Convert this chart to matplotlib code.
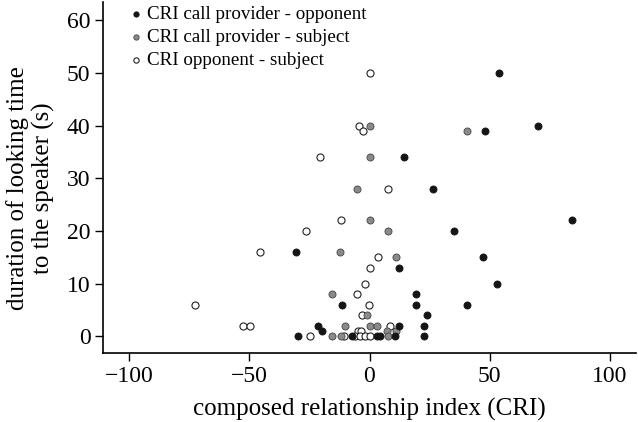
import numpy as np
import matplotlib
matplotlib.use("Agg")
import matplotlib.pyplot as plt

# data
# CRI call provider - opponent (black)
cpo_x = [53.75, 70, 48.3, 14.2, 26.4, 84.2, 35.1, -30.8, 47.1, 12.4, 53.1, 19.2,
         -11.5, 19.2, 40.7, 24, -21.3, 12.2, 22.6, -19.7, -29.6, -7.1, 3.1, 4.4,
         10.8, 22.6]
cpo_y = [50, 40, 39, 34, 28, 22, 20, 16, 15, 13, 10, 8,
         6, 6, 6, 4, 2, 2, 2, 1, 0, 0, 0, 0,
         0, 0]

# CRI call provider - subject (grey)
cps_x = [0.3, 40.7, 0.3, -5.4, 0.3, 7.6, -12.2, 11.2, -15.7, -1.2, -10.1, 0.3,
         3.2, 7.2, 11, -15.7, -11.9, 7.8]
cps_y = [40, 39, 34, 28, 22, 20, 16, 15, 8, 4, 2, 2,
         2, 1, 1, 0, 0, 0]

# CRI opponent - subject (white)
os_x = [0.3, -4.2, -2.8, -20.8, 7.5, -11.8, -26.4, -45.7, 3.5, 0.3, -1.9, -5.3,
        -72.6, -0.4, -3.3, -52.8, -49.6, 8.6, -4.6, -3.5, -24.7, -10.6, -6, -3.9,
        -1.8, 0.3]
os_y = [50, 40, 39, 34, 28, 22, 20, 16, 15, 13, 10, 8,
        6, 6, 4, 2, 2, 2, 1, 1, 0, 0, 0, 0,
        0, 0]

x_ticks = [-100, -50, 0, 50, 100]
y_ticks = [0, 10, 20, 30, 40, 50, 60]

plt.rcParams['font.family'] = ['Liberation Serif', 'DejaVu Serif']

fig = plt.figure(figsize=(6.38, 4.22), dpi=100)
ax = fig.add_axes([103 / 638, 1 - 353 / 422, 533 / 638, 351 / 422])

ms = 26
ax.scatter(os_x, os_y, s=ms, facecolor='white', edgecolor='#222222',
           linewidth=0.8, zorder=3, label='CRI opponent - subject')
ax.scatter(cps_x, cps_y, s=ms, facecolor='#8a8a8a', edgecolor='#444444',
           linewidth=0.6, zorder=4, label='CRI call provider - subject')
ax.scatter(cpo_x, cpo_y, s=ms, facecolor='#151515', edgecolor='#151515',
           linewidth=0.6, zorder=5, label='CRI call provider - opponent')

ax.set_xlim(-111, 111)
ax.set_ylim(-3.2, 63.5)
ax.set_xticks(x_ticks)
ax.set_yticks(y_ticks)
ax.tick_params(direction='out', length=6, width=1, labelsize=17, pad=3)

for side in ['top', 'right']:
    ax.spines[side].set_visible(False)
for side in ['left', 'bottom']:
    ax.spines[side].set_linewidth(1.2)

ax.set_xlabel('composed relationship index (CRI)', fontsize=18, labelpad=8)
ax.set_ylabel('duration of looking time\nto the speaker (s)', fontsize=18,
              linespacing=1.15)
ax.yaxis.set_label_coords(-0.09, 0.47)

handles, labels = ax.get_legend_handles_labels()
ax.legend(handles[::-1], labels[::-1], loc='upper left',
          bbox_to_anchor=(0.055, 0.99), frameon=False, fontsize=13.7,
          handlelength=0.4, handletextpad=0.35, labelspacing=0.3,
          borderaxespad=0, borderpad=0, markerscale=0.75)

fig.savefig('out.png', dpi=100)
